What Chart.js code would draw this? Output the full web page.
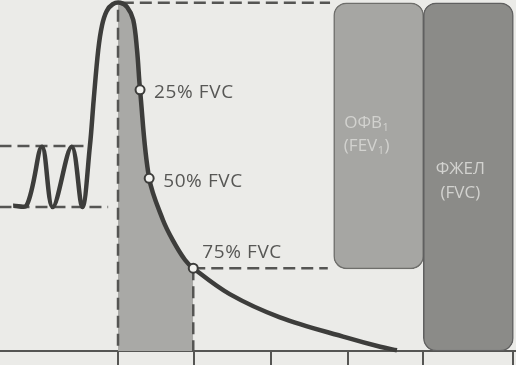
<!DOCTYPE html>
<html>
<head>
<meta charset="utf-8">
<script src="https://cdn.jsdelivr.net/npm/chart.js@4.4.1/dist/chart.umd.min.js"></script>
<style>
  html, body { margin: 0; padding: 0; background: #ebebe8; }
  #wrap { width: 516px; height: 365px; }
</style>
</head>
<body>
<div id="wrap"><canvas id="spiro"></canvas></div>
<script>
// === spirogram: time (s) vs volume (L) ===
const curveTime = [-1.38, -1.20, -1.00, -0.86, -0.61, -0.47,
                   -0.37, -0.32, -0.26, -0.21, -0.15, -0.07, 0.03, 0.12,
                   0.20, 0.25, 0.29, 0.41, 0.59, 0.72, 0.88, 0.99,
                   1.47, 2.13, 3.01, 3.45, 3.67];
const curveVol  = [2.07, 2.08, 2.91, 2.05, 2.91, 2.05,
                   2.92, 3.58, 4.29, 4.64, 4.84, 4.94, 4.96, 4.90,
                   4.72, 4.29, 3.72, 2.46, 1.87, 1.58, 1.30, 1.18,
                   0.81, 0.48, 0.19, 0.06, 0.01];

const markTime   = [0.29, 0.41, 0.99];
const markVol    = [3.72, 2.46, 1.18];
const markLabels = ["25% FVC", "50% FVC", "75% FVC"];

const xTicks = [0, 1, 2.01, 3.03, 4.01, 5.2];

// FEV1 / FVC blocks
const boxTime   = [3.43, 4.61];
const boxLow    = [1.17, 0];
const boxHigh   = [4.96, 4.96];
const boxLabels = [["ОФВ₁", "(FEV₁)"], ["ФЖЕЛ", "(FVC)"]];

// dashed guide lines [[t, v], [t, v]]
const guides = [
  [[-1.56, 2.92], [-0.39, 2.92]],
  [[-1.56, 2.05], [-0.13, 2.05]],
  [[0, 4.86], [0, 0]],
  [[0.05, 4.96], [2.79, 4.96]],
  [[0.99, 1.18], [2.76, 1.18]],
  [[0.99, 1.18], [0.99, 0]]
];

const fevStart = 0;
const fevEnd = markTime[2];

const curve = curveTime.map((t, i) => ({ x: t, y: curveVol[i] }));
const shade = [{ x: fevStart, y: 4.95 }].concat(curve.filter(p => p.x > fevStart && p.x <= fevEnd));

const ink = "#3d3d3b";
const smooth = 0.35;

const datasets = [];
datasets.push({
  data: markTime.map((t, i) => ({ x: t, y: markVol[i] })),
  showLine: false,
  pointRadius: 4.5,
  pointBackgroundColor: "#f2f2ef",
  pointBorderColor: ink,
  pointBorderWidth: 2,
  order: 0
});
datasets.push({
  data: curve,
  borderColor: ink,
  borderWidth: 4.5,
  tension: smooth,
  pointRadius: 0,
  fill: false,
  order: 1
});
guides.forEach(g => datasets.push({
  data: g.map(p => ({ x: p[0], y: p[1] })),
  borderColor: "#555553",
  borderWidth: 2.5,
  borderDash: [12, 6],
  pointRadius: 0,
  fill: false,
  order: 2
}));
datasets.push({
  data: shade,
  borderWidth: 0,
  borderColor: "rgba(0,0,0,0)",
  backgroundColor: "#a9a9a6",
  tension: smooth,
  pointRadius: 0,
  fill: "origin",
  order: 3
});
datasets.push({
  type: "bar",
  data: boxTime.map((t, i) => ({ x: t, y: [boxLow[i], boxHigh[i]] })),
  backgroundColor: ["#a6a6a3", "#8b8b88"],
  borderColor: ["#6e6e6b", "#606060"],
  borderWidth: 1.5,
  borderSkipped: false,
  borderRadius: 13,
  barThickness: 90,
  order: 4
});
const markIdx = 0;
const boxIdx = datasets.length - 1;

// draw text with "₁" as a lowered small "1"
function drawSubText(ctx, str, cx, cy, size) {
  const parts = str.split("₁");
  const big = size + 'px "Open Sans"', small = Math.round(size * 0.62) + 'px "Open Sans"';
  let w = 0;
  parts.forEach((p, i) => {
    ctx.font = big; w += ctx.measureText(p).width;
    if (i < parts.length - 1) { ctx.font = small; w += ctx.measureText("1").width + 1; }
  });
  let x = cx - w / 2;
  parts.forEach((p, i) => {
    ctx.font = big; ctx.fillText(p, x, cy); x += ctx.measureText(p).width;
    if (i < parts.length - 1) {
      ctx.font = small; ctx.fillText("1", x + 0.5, cy + size * 0.3); x += ctx.measureText("1").width + 1;
    }
  });
}

const textPlugin = {
  id: "texts",
  beforeDraw(chart) {
    const ctx = chart.ctx;
    ctx.save();
    ctx.fillStyle = "#ebebe8";
    ctx.fillRect(0, 0, chart.width, chart.height);
    ctx.restore();
  },
  afterDatasetsDraw(chart) {
    const ctx = chart.ctx;
    ctx.save();
    ctx.textBaseline = "middle";
    ctx.textAlign = "left";
    ctx.fillStyle = "#575755";
    ctx.font = '19px "Open Sans"';
    ctx.letterSpacing = "0.6px";
    const offs = [[14, 3], [14, 3], [9, -16]];
    chart.getDatasetMeta(markIdx).data.forEach((p, i) => {
      ctx.fillText(markLabels[i], p.x + offs[i][0], p.y + offs[i][1]);
    });
    ctx.letterSpacing = "0px";
    ctx.fillStyle = "#d2d2cf";
    const boxOffs = [[-12, 120, 143], [-8, 166, 190]];
    chart.getDatasetMeta(boxIdx).data.forEach((b, i) => {
      const top = Math.min(b.y, b.base);
      boxLabels[i].forEach((line, j) => {
        drawSubText(ctx, line, b.x + boxOffs[i][0], top + boxOffs[i][j + 1], 17);
      });
    });
    ctx.restore();
  }
};

new Chart(document.getElementById("spiro"), {
  type: "line",
  data: { datasets },
  options: {
    responsive: true,
    maintainAspectRatio: false,
    animation: false,
    layout: { padding: 0, autoPadding: false },
    clip: false,
    plugins: { legend: { display: false }, tooltip: { enabled: false } },
    scales: {
      x: {
        type: "linear",
        min: -1.553,
        max: 5.237,
        offset: false,
        afterBuildTicks: s => { s.ticks = xTicks.map(v => ({ value: v })); },
        ticks: { display: false },
        grid: { offset: false, drawOnChartArea: false, drawTicks: true, tickLength: 14, color: "#555553", lineWidth: 2 },
        border: { display: true, color: "#555553", width: 2 }
      },
      y: { display: false, min: 0, max: 5.0 }
    }
  },
  plugins: [textPlugin]
});
</script>
</body>
</html>
